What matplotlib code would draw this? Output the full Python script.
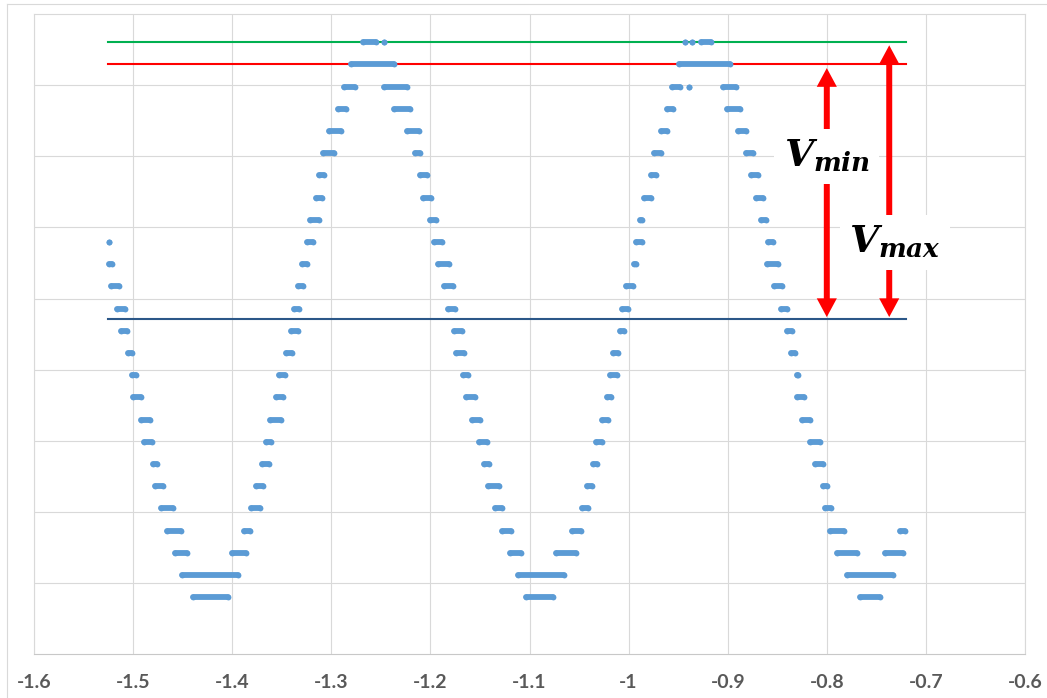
import matplotlib
matplotlib.use('Agg')
import matplotlib.pyplot as plt
from matplotlib.patches import FancyArrowPatch
from matplotlib.lines import Line2D

# quantisation levels of the sampled signal (index 0 = lowest)
LEVELS = [0.080, 0.111, 0.142, 0.174, 0.205, 0.236, 0.267, 0.299, 0.330, 0.361,
          0.392, 0.423, 0.455, 0.486, 0.517, 0.548, 0.580, 0.611, 0.642, 0.673,
          0.705, 0.736, 0.767, 0.798, 0.830, 0.861]
MEAN_LEVEL = 0.471

# each run = a string of overlapping samples sitting on one level
RUN_LEVEL = [16, 15, 14, 13, 12, 11, 10, 9, 8, 7, 6, 5, 4, 3, 2, 1, 0,
             2, 3, 4, 5, 6, 7, 8, 9, 10, 11, 12, 13, 14, 15, 16, 17, 18, 19, 20, 21, 22, 23, 24, 25, 25,
             23, 22, 21, 20, 19, 18, 17, 16, 15, 14, 13, 12, 11, 10, 9, 8, 7, 6, 5, 4, 3, 2, 1, 0,
             2, 3, 4, 5, 6, 7, 8, 9, 10, 11, 12, 13, 14, 15, 16, 17, 18, 19, 20, 21, 22, 23, 23, 24, 25, 25, 25,
             23, 22, 21, 20, 19, 18, 17, 16, 15, 14, 13, 12, 11, 10, 9, 8, 7, 6, 5, 4, 3, 2, 1, 0,
             2, 3]
RUN_START = [-1.524, -1.524, -1.522, -1.516, -1.512, -1.505, -1.501, -1.500, -1.492, -1.489,
             -1.480, -1.478, -1.472, -1.466, -1.458, -1.451, -1.440,
             -1.400, -1.388, -1.381, -1.376, -1.370, -1.366, -1.362, -1.356, -1.353, -1.346,
             -1.341, -1.338, -1.334, -1.330, -1.325, -1.321, -1.315, -1.312, -1.308, -1.302,
             -1.293, -1.287, -1.280, -1.268, -1.247,
             -1.247, -1.237, -1.224, -1.216, -1.210, -1.207, -1.200, -1.196, -1.192, -1.186,
             -1.182, -1.176, -1.174, -1.167, -1.164, -1.158, -1.151, -1.146, -1.142, -1.135,
             -1.128, -1.120, -1.112, -1.104,
             -1.073, -1.057, -1.047, -1.042, -1.036, -1.033, -1.027, -1.022, -1.019, -1.016,
             -1.009, -1.007, -1.003, -0.995, -0.993, -0.988, -0.984, -0.977, -0.974, -0.967,
             -0.961, -0.956, -0.939, -0.949, -0.943, -0.936, -0.927,
             -0.905, -0.901, -0.890, -0.882, -0.876, -0.871, -0.866, -0.859, -0.860, -0.853,
             -0.846, -0.840, -0.836, -0.830, -0.830, -0.825, -0.817, -0.812, -0.804, -0.802,
             -0.797, -0.790, -0.780, -0.766,
             -0.741, -0.726]
RUN_END = [-1.524, -1.521, -1.514, -1.508, -1.506, -1.501, -1.497, -1.492, -1.483, -1.481,
           -1.476, -1.470, -1.460, -1.452, -1.446, -1.394, -1.404,
           -1.386, -1.382, -1.372, -1.369, -1.363, -1.361, -1.351, -1.349, -1.347, -1.340,
           -1.334, -1.333, -1.329, -1.325, -1.318, -1.312, -1.309, -1.307, -1.297, -1.290,
           -1.285, -1.276, -1.237, -1.255, -1.247,
           -1.224, -1.221, -1.212, -1.210, -1.203, -1.199, -1.194, -1.188, -1.181, -1.177,
           -1.175, -1.168, -1.166, -1.162, -1.155, -1.150, -1.143, -1.141, -1.131, -1.128,
           -1.119, -1.109, -1.065, -1.076,
           -1.053, -1.048, -1.041, -1.037, -1.032, -1.027, -1.021, -1.018, -1.012, -1.011,
           -1.005, -1.001, -0.996, -0.993, -0.986, -0.986, -0.977, -0.972, -0.967, -0.961,
           -0.955, -0.948, -0.939, -0.898, -0.943, -0.936, -0.917,
           -0.892, -0.888, -0.882, -0.874, -0.869, -0.864, -0.861, -0.854, -0.849, -0.845,
           -0.840, -0.835, -0.832, -0.829, -0.823, -0.817, -0.807, -0.804, -0.800, -0.796,
           -0.783, -0.770, -0.733, -0.746,
           -0.723, -0.721]

LINE_START, LINE_END = -1.525, -0.720
XTICKS = [-1.6, -1.5, -1.4, -1.3, -1.2, -1.1, -1.0, -0.9, -0.8, -0.7, -0.6]
XTICK_LABELS = ['-1.6', '-1.5', '-1.4', '-1.3', '-1.2', '-1.1', '-1', '-0.9', '-0.8', '-0.7', '-0.6']
YGRID = [0.1, 0.2, 0.3, 0.4, 0.5, 0.6, 0.7, 0.8]

VMIN_X, VMAX_X = -0.800, -0.737
DOT_BLUE = '#5B9BD5'
GRID = '#D9D9D9'

plt.rcParams['mathtext.fontset'] = 'custom'
plt.rcParams['mathtext.it'] = 'DejaVu Serif:italic:bold'
plt.rcParams['mathtext.rm'] = 'DejaVu Serif:bold'

fig = plt.figure(figsize=(10.47, 6.98), dpi=100)
ax = fig.add_axes([34 / 1047, 43.7 / 698, 991 / 1047, 640.3 / 698])

# outer chart border (only left/top are inside the picture)
fig.add_artist(Line2D([7 / 1047, 7 / 1047], [0, 1 - 4 / 698], transform=fig.transFigure, color=GRID, lw=0.8))
fig.add_artist(Line2D([7 / 1047, 1], [1 - 4 / 698, 1 - 4 / 698], transform=fig.transFigure, color=GRID, lw=0.8))

ax.set_xlim(-1.6, -0.6)
ax.set_ylim(0, 0.9)
ax.set_xticks(XTICKS)
ax.set_xticklabels(XTICK_LABELS, fontfamily='Lato', fontweight='bold', fontsize=14, color='#595959')
ax.set_yticks(YGRID)
ax.tick_params(axis='x', length=0, pad=14)
ax.tick_params(axis='y', length=0, labelleft=False)
ax.grid(True, color=GRID, lw=0.8, zorder=0)
ax.set_axisbelow(True)
for s in ax.spines.values():
    s.set_color(GRID)
    s.set_linewidth(0.8)
ax.spines['bottom'].set_color('#C8C8C8')

# reference lines
ax.plot([LINE_START, LINE_END], [LEVELS[25], LEVELS[25]], color='#00B050', lw=1.5, zorder=2)
ax.plot([LINE_START, LINE_END], [LEVELS[24], LEVELS[24]], color='#FF0000', lw=1.5, zorder=2)
ax.plot([LINE_START, LINE_END], [MEAN_LEVEL, MEAN_LEVEL], color='#2B5788', lw=1.5, zorder=2)

# samples
for k, x0, x1 in zip(RUN_LEVEL, RUN_START, RUN_END):
    y = LEVELS[k]
    ax.plot([x0, x1], [y, y], color=DOT_BLUE, lw=4.2, solid_capstyle='round',
            marker='o', ms=4.2, mew=0, zorder=3)

def red_arrow(x, y0, y1):
    ax.add_patch(FancyArrowPatch((x, y0), (x, y1),
                                 arrowstyle='simple,head_length=13.5,head_width=14.5,tail_width=4.3',
                                 mutation_scale=1, color='#FF0000', lw=0,
                                 shrinkA=0, shrinkB=0, zorder=4))

vmin_y, vmax_y = 0.700, 0.579
red_arrow(VMIN_X, vmin_y, 0.824)
red_arrow(VMIN_X, vmin_y, 0.474)
red_arrow(VMAX_X, vmax_y, 0.856)
red_arrow(VMAX_X, vmax_y, 0.474)

box = dict(boxstyle='square,pad=0.25', fc='white', ec='none')
ax.text(VMIN_X, vmin_y, r'$V_{min}$', fontsize=27, ha='center', va='center', bbox=box, zorder=5)
ax.text(-0.731, vmax_y, r'$V_{max}$', fontsize=27, ha='center', va='center', bbox=box, zorder=5)

fig.savefig('out.png', dpi=100)
